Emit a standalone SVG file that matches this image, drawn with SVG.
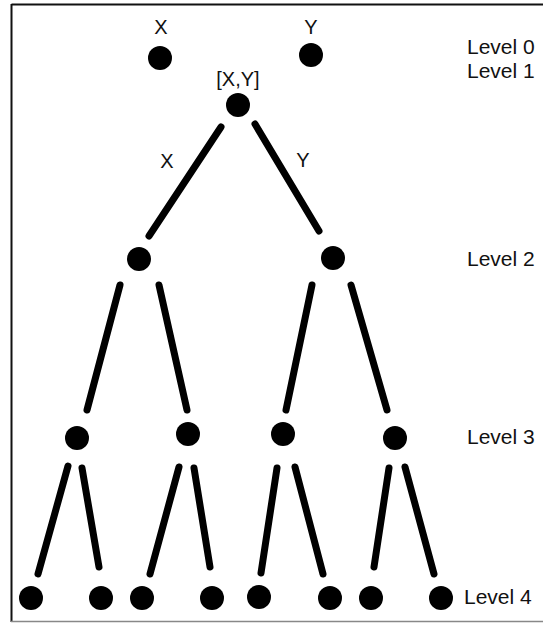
<svg xmlns="http://www.w3.org/2000/svg" width="543" height="623" viewBox="0 0 543 623">
  <style>
    .node { fill: #000; }
    .edge { stroke: #000; stroke-width: 7; stroke-linecap: round; fill: none; }
    .lbl { font-family: "Liberation Sans", Arial, sans-serif; font-size: 20px; fill: #111; text-anchor: middle; }
    .lvl { font-family: "Liberation Sans", Arial, sans-serif; font-size: 21px; fill: #111; }
  </style>
  <rect width="543" height="623" fill="#fff"/>
  <!-- frame -->
  <g id="frame">
    <line x1="11.5" y1="4.5" x2="543" y2="4.5" stroke="#111" stroke-width="2"/>
    <line x1="11.5" y1="4" x2="11.5" y2="622" stroke="#111" stroke-width="2"/>
    <line x1="11" y1="621.5" x2="543" y2="621.5" stroke="#888" stroke-width="1.5"/>
  </g>

  <!-- connectors -->
  <g id="connectors">
    <line class="edge" x1="221" y1="127" x2="149" y2="236"/>
    <line class="edge" x1="255" y1="124" x2="319" y2="231"/>
    <line class="edge" x1="120" y1="285" x2="87" y2="410"/>
    <line class="edge" x1="159" y1="285" x2="187" y2="410"/>
    <line class="edge" x1="312" y1="285" x2="286" y2="410"/>
    <line class="edge" x1="351" y1="285" x2="387" y2="410"/>
    <line class="edge" x1="68" y1="466" x2="38" y2="574"/>
    <line class="edge" x1="82" y1="468" x2="99" y2="567"/>
    <line class="edge" x1="179" y1="467" x2="150" y2="574"/>
    <line class="edge" x1="194" y1="468" x2="210" y2="567"/>
    <line class="edge" x1="277" y1="468" x2="261" y2="573"/>
    <line class="edge" x1="295" y1="467" x2="323" y2="574"/>
    <line class="edge" x1="389" y1="468" x2="374" y2="567"/>
    <line class="edge" x1="405" y1="467" x2="434" y2="574"/>
  </g>
  <g id="edge-labels">
    <text class="lbl" x="167" y="168">X</text>
    <text class="lbl" x="303" y="167">Y</text>
  </g>

  <!-- level 0 -->
  <g id="n-x"><text class="lbl" x="161" y="34">X</text><circle class="node" cx="160" cy="58" r="12"/></g>
  <g id="n-y"><text class="lbl" x="311" y="34">Y</text><circle class="node" cx="311" cy="55" r="12"/></g>
  <!-- level 1 -->
  <g id="n-xy"><text class="lbl" x="238" y="86">[X,Y]</text><circle class="node" cx="238" cy="105" r="12"/></g>
  <!-- level 2 -->
  <g id="n-2a"><circle class="node" cx="139" cy="259" r="12"/></g>
  <g id="n-2b"><circle class="node" cx="333" cy="258" r="12"/></g>
  <!-- level 3 -->
  <g id="n-3a"><circle class="node" cx="77" cy="438" r="12"/></g>
  <g id="n-3b"><circle class="node" cx="188" cy="434" r="12"/></g>
  <g id="n-3c"><circle class="node" cx="283" cy="434" r="12"/></g>
  <g id="n-3d"><circle class="node" cx="395" cy="438" r="12"/></g>
  <!-- level 4 -->
  <g id="n-4a"><circle class="node" cx="31" cy="598" r="12"/></g>
  <g id="n-4b"><circle class="node" cx="101" cy="598" r="12"/></g>
  <g id="n-4c"><circle class="node" cx="142" cy="598" r="12"/></g>
  <g id="n-4d"><circle class="node" cx="212" cy="598" r="12"/></g>
  <g id="n-4e"><circle class="node" cx="259" cy="597" r="12"/></g>
  <g id="n-4f"><circle class="node" cx="330" cy="598" r="12"/></g>
  <g id="n-4g"><circle class="node" cx="371" cy="598" r="12"/></g>
  <g id="n-4h"><circle class="node" cx="441" cy="598" r="12"/></g>

  <!-- level captions -->
  <g id="levels">
    <text class="lvl" x="467" y="54">Level 0</text>
    <text class="lvl" x="467" y="78">Level 1</text>
    <text class="lvl" x="467" y="266">Level 2</text>
    <text class="lvl" x="467" y="444">Level 3</text>
    <text class="lvl" x="464" y="604">Level 4</text>
  </g>
</svg>
